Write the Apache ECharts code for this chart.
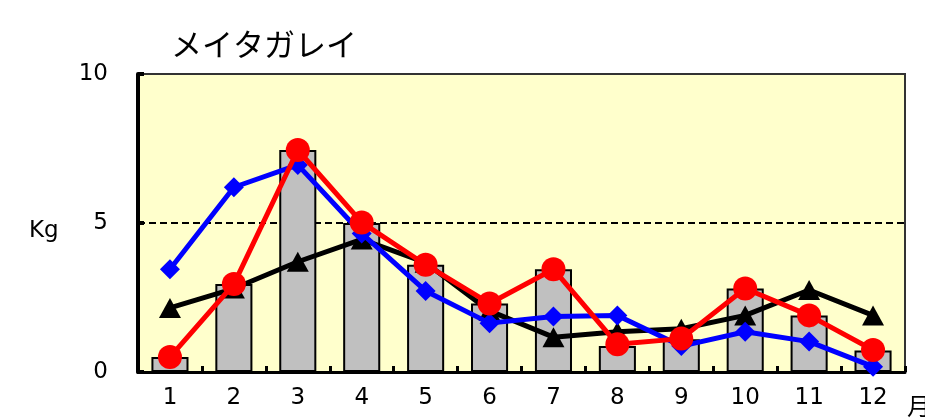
<!DOCTYPE html>
<html>
<head>
<meta charset="utf-8">
<script src="https://cdn.jsdelivr.net/npm/echarts@6/dist/echarts.min.js"></script>
<style>html,body{margin:0;padding:0;background:#fff;}#c{width:925px;height:419px;}</style>
</head>
<body>
<div id="c"></div>
<script>
var months = ['1','2','3','4','5','6','7','8','9','10','11','12'];
var barValues = [0.5, 2.95, 7.45, 5.0, 3.6, 2.3, 3.45, 0.87, 1.1, 2.8, 1.9, 0.72];
var blackValues = [2.15, 2.8, 3.7, 4.45, 3.67, 2.05, 1.17, 1.35, 1.45, 1.9, 2.75, 1.9];
var blueValues = [3.45, 6.2, 6.95, 4.65, 2.72, 1.64, 1.86, 1.9, 0.87, 1.35, 1.02, 0.18];
var redValues = [0.5, 2.95, 7.45, 5.02, 3.6, 2.3, 3.45, 0.93, 1.12, 2.8, 1.9, 0.74];
var title = 'メイタガレイ';
var yName = 'Kg';
var xName = '月';

var FONT = 'DejaVu Sans';
var chart = echarts.init(document.getElementById('c'), null, {renderer: 'canvas'});
chart.setOption({
  animation: false,
  backgroundColor: '#ffffff',
  title: {
    text: title, left: 166, top: 24,
    textStyle: {fontFamily: 'Noto Sans CJK JP', fontSize: 31, fontWeight: 'normal', color: '#000'}
  },
  grid: {
    left: 138, top: 74, right: 20, bottom: 47,
    show: true, backgroundColor: '#FFFFCC', borderColor: '#333', borderWidth: 2
  },
  graphic: [
    {type: 'text', left: 29, top: 220, style: {text: yName, fontFamily: FONT, fontSize: 23, fill: '#000'}},
    {type: 'text', left: 907, top: 394, style: {text: xName, fontFamily: 'Noto Sans CJK JP', fontSize: 24, fill: '#000'}}
  ],
  xAxis: {
    type: 'category', data: months, boundaryGap: true,
    axisLine: {show: true, lineStyle: {color: '#000', width: 3}},
    axisTick: {show: true, inside: true, length: 6, lineStyle: {color: '#000', width: 3}},
    axisLabel: {fontFamily: FONT, fontSize: 23, color: '#000', margin: 15},
    splitLine: {show: false}
  },
  yAxis: {
    type: 'value', min: 0, max: 10, interval: 5,
    axisLine: {show: true, lineStyle: {color: '#000', width: 4}},
    axisTick: {show: true, inside: true, length: 6, lineStyle: {color: '#000', width: 4}},
    axisLabel: {fontFamily: FONT, fontSize: 23, color: '#000', margin: 30},
    splitLine: {show: true, lineStyle: {color: ['transparent', '#000', '#333'], type: [7, 4], width: 2}}
  },
  series: [
    {
      type: 'bar', data: barValues, barWidth: '58%',
      itemStyle: {color: '#C0C0C0', borderColor: '#000', borderWidth: 2},
      z: 1
    },
    {
      type: 'line', data: blackValues, symbol: 'triangle', symbolSize: [22, 20],
      lineStyle: {color: '#000', width: 5}, itemStyle: {color: '#000'}, z: 2
    },
    {
      type: 'line', data: blueValues, symbol: 'diamond', symbolSize: 20,
      lineStyle: {color: '#0000FF', width: 5}, itemStyle: {color: '#0000FF'}, z: 3
    },
    {
      type: 'line', data: redValues, symbol: 'circle', symbolSize: 24,
      lineStyle: {color: '#FF0000', width: 5}, itemStyle: {color: '#FF0000'}, z: 4
    }
  ]
});
</script>
</body>
</html>
